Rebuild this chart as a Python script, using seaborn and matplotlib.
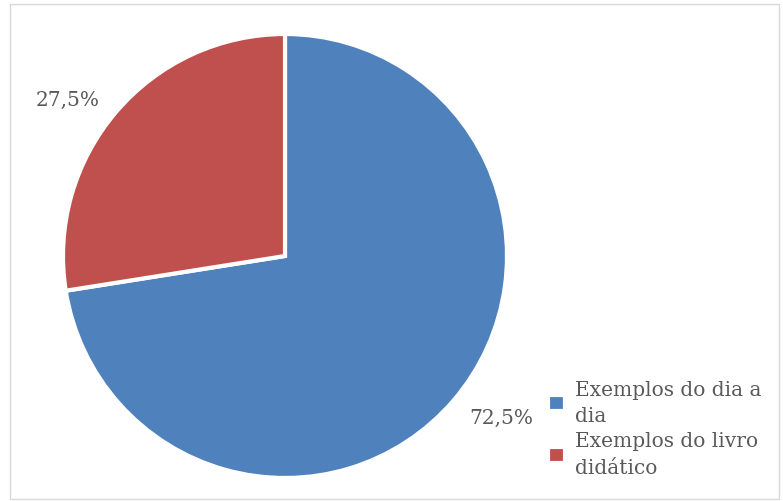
import matplotlib
matplotlib.use("Agg")
import matplotlib.pyplot as plt
import seaborn as sns
from matplotlib.patches import Rectangle

sns.set_theme(style="white")
plt.rcParams['font.family'] = ['DejaVu Serif']

categories = ["Exemplos do dia a\ndia", "Exemplos do livro\ndidático"]
values = [72.5, 27.5]
colors = ["#4F81BD", "#C0504D"]
label_pos = [(0.973, -0.725), (-0.977, 0.707)]

fig = plt.figure(figsize=(7.83, 5.02), dpi=100)
fig.patches.append(Rectangle((10/783, 2/502), 769/783, 495/502, transform=fig.transFigure,
                             fill=False, edgecolor="#D9D9D9", linewidth=1))
ax = fig.add_axes([63/783, 23/502, 444/783, 444/502])
wedges, texts, autotexts = ax.pie(
    values, colors=colors, startangle=90, counterclock=False,
    autopct=lambda p: f"{p:.1f}%".replace('.', ','), pctdistance=1.21,
    wedgeprops=dict(edgecolor="white", linewidth=3),
    textprops=dict(color="#595959", fontsize=14.5))
for t, pos in zip(autotexts, label_pos):
    t.set_position(pos)
ax.set_xlim(-1, 1)
ax.set_ylim(-1, 1)
ax.set_aspect("equal")
ax.axis("off")

leg = fig.legend(wedges, categories, loc="lower left", bbox_to_anchor=(530/783, 6/502),
           frameon=False, fontsize=14.5, labelcolor="#595959", handlelength=0.85,
           handleheight=0.85, handletextpad=0.5, labelspacing=0.3)
for t in leg.get_texts():
    t.set_linespacing(1.5)

fig.savefig("out.png", dpi=100)
